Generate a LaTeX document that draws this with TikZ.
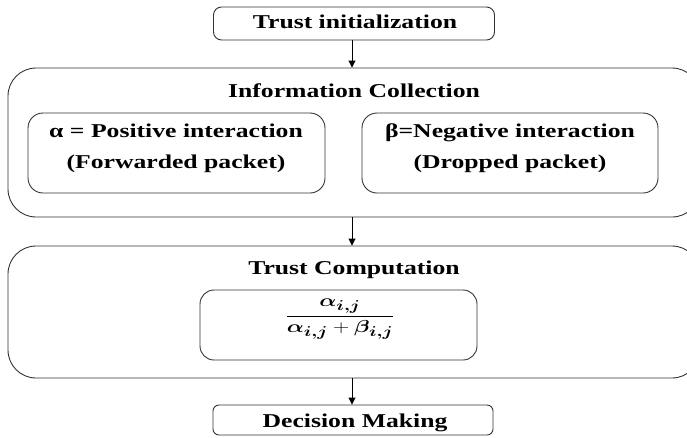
\documentclass[tikz,border=0pt]{standalone}
\usepackage{fontspec}
\setmainfont{Liberation Serif}[FakeStretch=1.31]
\usepackage{amsmath,bm}
\usetikzlibrary{arrows.meta}
\begin{document}
\begin{tikzpicture}[x=1pt,y=-1pt,
  box/.style={draw=black!80, line width=0.9pt, inner sep=0pt},
  lbl/.style={font=\fontsize{19.6}{23}\selectfont\bfseries, anchor=base, inner sep=0pt},
  arr/.style={draw=black, line width=0.9pt, -{Triangle[width=7pt,length=7pt]}}]
\useasboundingbox (0,0) rectangle (687,437);
% boxes
\node[box, rounded corners=8pt, minimum width=281pt, minimum height=33pt] (init) at (354,23.5) {};
\node[box, rounded corners=28pt, minimum width=692pt, minimum height=149pt] (info) at (354,142.5) {};
\node[box, rounded corners=15pt, minimum width=297pt, minimum height=80pt] (pos) at (176.5,153) {};
\node[box, rounded corners=15pt, minimum width=296pt, minimum height=80pt] (neg) at (510,153) {};
\node[box, rounded corners=28pt, minimum width=692pt, minimum height=132pt] (comp) at (354,312) {};
\node[box, rounded corners=14pt, minimum width=277pt, minimum height=70pt] (frac) at (338.5,325) {};
\node[box, rounded corners=6pt, minimum width=280pt, minimum height=30pt] (dec) at (353,420) {};
% texts
\node[lbl] (initt) at (355,28.5) {Trust initialization};
\node[lbl] (infot) at (354,97.5) {Information Collection};
\node[lbl] (post1) at (176,137.5) {α = Positive interaction};
\node[lbl] (post2) at (176,168.5) {(Forwarded packet)};
\node[lbl] (negt1) at (510,137.5) {β=Negative interaction};
\node[lbl] (negt2) at (510,168.5) {(Dropped packet)};
\node[lbl] (compt) at (354,274.5) {Trust Computation};
\node[inner sep=0pt] (fract) at (340,319) {\scalebox{1.3}[1]{\fontsize{19}{22}\selectfont$\displaystyle\frac{\bm{\alpha}_{\bm{i,j}}}{\bm{\alpha}_{\bm{i,j}}+\bm{\beta}_{\bm{i,j}}}$}};
\node[lbl] (dect) at (355,427.5) {Decision Making};
% connectors
\draw[arr] (init.south -| 352,0) -- (info.north -| 352,0);
\draw[arr] (info.south -| 352,0) -- (comp.north -| 352,0);
\draw[arr] (comp.south -| 352,0) -- (dec.north -| 352,0);
\end{tikzpicture}
\end{document}
